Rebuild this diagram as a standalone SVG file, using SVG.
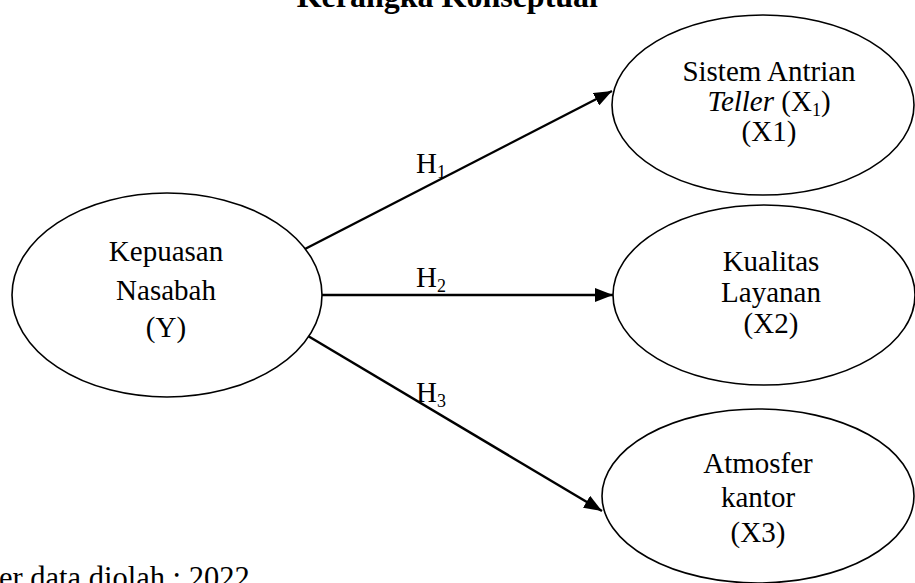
<svg xmlns="http://www.w3.org/2000/svg" width="915" height="583" viewBox="0 0 915 583">
<defs>
<style>
.node{fill:#fff;stroke:#000;stroke-width:1.6}
.t{font-family:"Liberation Serif","Times New Roman",serif;font-size:29px;fill:#000;text-anchor:middle}
.lbl{font-family:"Liberation Serif","Times New Roman",serif;font-size:29px;fill:#000}
.sub{font-size:18px}
.edge{stroke:#000;stroke-width:2.4;fill:none;marker-end:url(#arr)}
</style>
<marker id="arr" viewBox="0 0 18 14" refX="18" refY="7" markerWidth="18" markerHeight="14" markerUnits="userSpaceOnUse" orient="auto">
<path d="M0,0 L18,7 L0,14 Z" fill="#000"/>
</marker>
</defs>
<rect width="915" height="583" fill="#fff"/>
<text x="598" y="7" font-family="'Liberation Serif','Times New Roman',serif" font-size="32" font-weight="bold" text-anchor="end">Kerangka Konseptual</text>
<g id="connectors">
<line class="edge" x1="303" y1="250" x2="612" y2="91"/>
<line class="edge" x1="321" y1="295" x2="613" y2="295"/>
<line class="edge" x1="303" y1="333" x2="602" y2="511"/>
<text class="lbl" x="416" y="173">H<tspan class="sub" dy="5">1</tspan></text>
<text class="lbl" x="416" y="287">H<tspan class="sub" dy="5">2</tspan></text>
<text class="lbl" x="416" y="402">H<tspan class="sub" dy="5">3</tspan></text>
</g>
<g id="nodeY">
<ellipse class="node" cx="167" cy="295" rx="155" ry="102"/>
<text class="t" x="166" y="261">Kepuasan</text>
<text class="t" x="166" y="300">Nasabah</text>
<text class="t" x="166" y="337">(Y)</text>
</g>
<g id="nodeX1">
<ellipse class="node" cx="763" cy="105" rx="151" ry="90"/>
<text class="t" x="769" y="81">Sistem Antrian</text>
<text class="t" x="769" y="111"><tspan font-style="italic">Teller</tspan> (X<tspan class="sub" dy="5">1</tspan><tspan dy="-5">)</tspan></text>
<text class="t" x="769" y="141">(X1)</text>
</g>
<g id="nodeX2">
<ellipse class="node" cx="764" cy="295" rx="151" ry="90"/>
<text class="t" x="771" y="271">Kualitas</text>
<text class="t" x="771" y="302">Layanan</text>
<text class="t" x="771" y="333">(X2)</text>
</g>
<g id="nodeX3">
<ellipse class="node" cx="758" cy="496" rx="156" ry="87"/>
<text class="t" x="758" y="473">Atmosfer</text>
<text class="t" x="758" y="507">kantor</text>
<text class="t" x="758" y="542">(X3)</text>
</g>
<text x="-1" y="588" font-family="'Liberation Serif','Times New Roman',serif" font-size="30.5">er data diolah : 2022</text>
</svg>
